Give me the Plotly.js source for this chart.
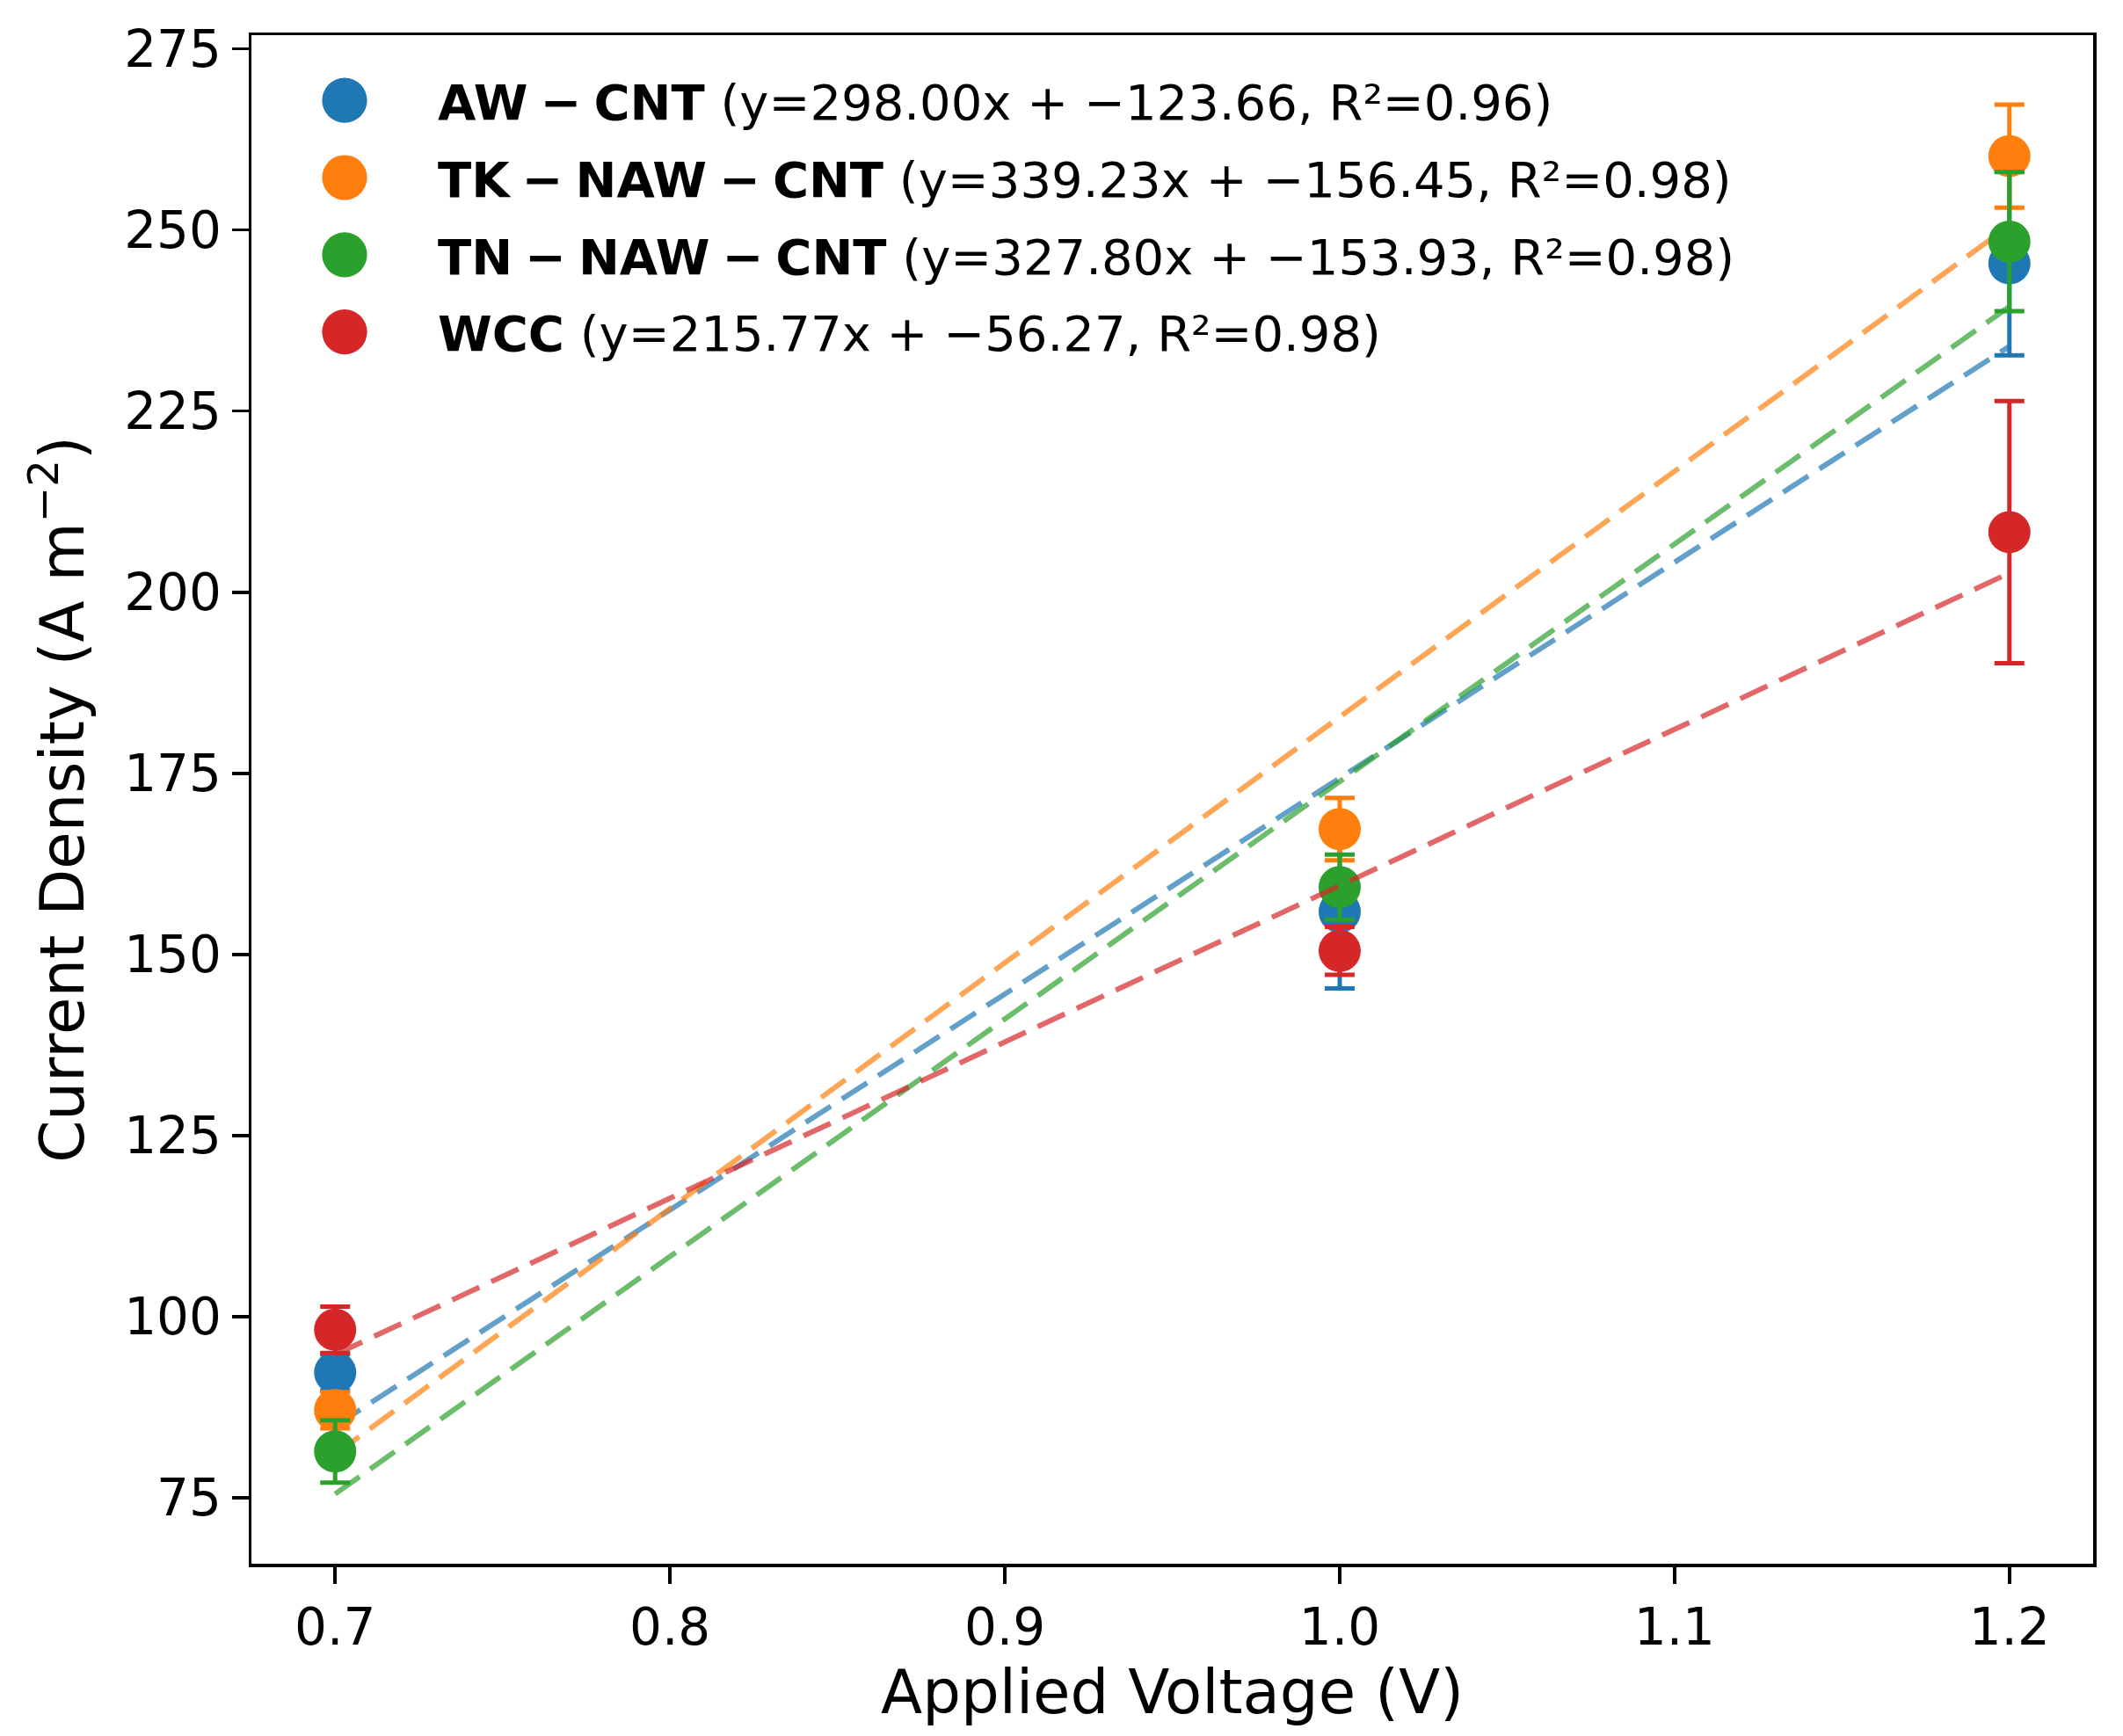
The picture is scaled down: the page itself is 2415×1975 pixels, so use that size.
<!DOCTYPE html>
<html>
<head>
<meta charset="utf-8">
<script src="https://cdn.plot.ly/plotly-3.0.1.min.js"></script>
<style>
  html, body { margin: 0; padding: 0; background: #fff; }
  #chart { width: 2415px; height: 1975px; }
</style>
</head>
<body>
<div id="chart"></div>
<script>
  // values
  const voltages = [0.7, 1.0, 1.2];
  const seriesLabels = [
    "<b>AW\u2005−\u2005CNT</b> (y=298.00x + −123.66, R²=0.96)",
    "<b>TK\u2005−\u2005NAW\u2005−\u2005CNT</b> (y=339.23x + −156.45, R²=0.98)",
    "<b>TN\u2005−\u2005NAW\u2005−\u2005CNT</b> (y=327.80x + −153.93, R²=0.98)",
    "<b>WCC</b> (y=215.77x + −56.27, R²=0.98)",
  ];
  const awCnt = [92.3, 155.9, 245.4];
  const awCntErr = [2.5, 10.6, 12.7];
  const tkNawCnt = [87.1, 167.3, 260.2];
  const tkNawCntErr = [2.5, 4.3, 7.1];
  const tnNawCnt = [81.4, 159.3, 248.4];
  const tnNawCntErr = [4.3, 4.5, 9.6];
  const wcc = [98.2, 150.5, 208.3];
  const wccErr = [3.2, 3.3, 18.1];

  // dashed fit lines, ends at 0.7 V and 1.2 V
  const fitVoltages = [0.7, 1.2];
  const awCntFit = [84.94, 233.94];
  const tkNawCntFit = [81.01, 250.63];
  const tnNawCntFit = [75.53, 239.43];
  const wccFit = [94.77, 202.65];

  const yTicks = [75, 100, 125, 150, 175, 200, 225, 250, 275];
  const xTicks = [0.7, 0.8, 0.9, 1.0, 1.1, 1.2];

  const colors = ["#1f77b4", "#ff7f0e", "#2ca02c", "#d62728"];
  const fitColors = ["rgba(31,119,180,0.7)", "rgba(255,127,14,0.7)", "rgba(44,160,44,0.7)", "rgba(214,39,40,0.7)"];
  const FONT = "DejaVu Sans, sans-serif";

  const series = [
    [awCnt, awCntErr, awCntFit],
    [tkNawCnt, tkNawCntErr, tkNawCntFit],
    [tnNawCnt, tnNawCntErr, tnNawCntFit],
    [wcc, wccErr, wccFit],
  ];

  const traces = [];
  series.forEach(([vals, errs, fit], i) => {
    traces.push({
      x: voltages,
      y: vals,
      type: "scatter",
      mode: "markers",
      name: seriesLabels[i],
      legendgroup: "g" + i,
      marker: { color: colors[i], size: 48 },
      error_y: { type: "data", array: errs, visible: true, color: colors[i], thickness: 5, width: 17 },
    });
    traces.push({
      x: fitVoltages,
      y: fit,
      type: "scatter",
      mode: "lines",
      showlegend: false,
      hoverinfo: "skip",
      line: { color: fitColors[i], width: 6, dash: "34px,15px" },
    });
  });

  const axisCommon = {
    showgrid: false,
    zeroline: false,
    showline: true,
    mirror: true,
    linecolor: "#000",
    linewidth: 3.5,
    ticks: "outside",
    ticklen: 19,
    tickwidth: 3.5,
    tickcolor: "#000",
    tickfont: { family: FONT, size: 58, color: "#000" },
  };

  const layout = {
    width: 2415,
    height: 1975,
    paper_bgcolor: "#fff",
    plot_bgcolor: "#fff",
    margin: { l: 286, r: 34, t: 40, b: 196 },
    showlegend: true,
    legend: {
      x: 0,
      y: 0.982,
      xanchor: "left",
      yanchor: "top",
      bgcolor: "rgba(255,255,255,0)",
      borderwidth: 0,
      font: { family: FONT, size: 56, color: "#000" },
      tracegroupgap: 12,
      itemwidth: 202,
    },
    xaxis: Object.assign({}, axisCommon, {
      range: [0.675, 1.225],
      tickmode: "array",
      tickvals: xTicks,
      ticktext: xTicks.map((v) => v.toFixed(1)),
      title: { text: "Applied Voltage (V)", font: { family: FONT, size: 69, color: "#000" }, standoff: 16 },
    }),
    yaxis: Object.assign({}, axisCommon, {
      range: [65.9, 276.9],
      tickmode: "array",
      tickvals: yTicks,
      title: { text: "Current Density (A m<sup>−2</sup>)", font: { family: FONT, size: 69, color: "#000" }, standoff: 24 },
    }),
  };

  Plotly.newPlot("chart", traces, layout, { displayModeBar: false, staticPlot: true }).then(() => {
    // legend keys are capped at 16px by plotly, scale them up to the plot marker size
    document.querySelectorAll(".legend .legendpoints .scatterpts").forEach((pt) => {
      const t = pt.getAttribute("transform") || "";
      pt.setAttribute("transform", t + " scale(3.2)");
    });
  });
</script>
</body>
</html>
